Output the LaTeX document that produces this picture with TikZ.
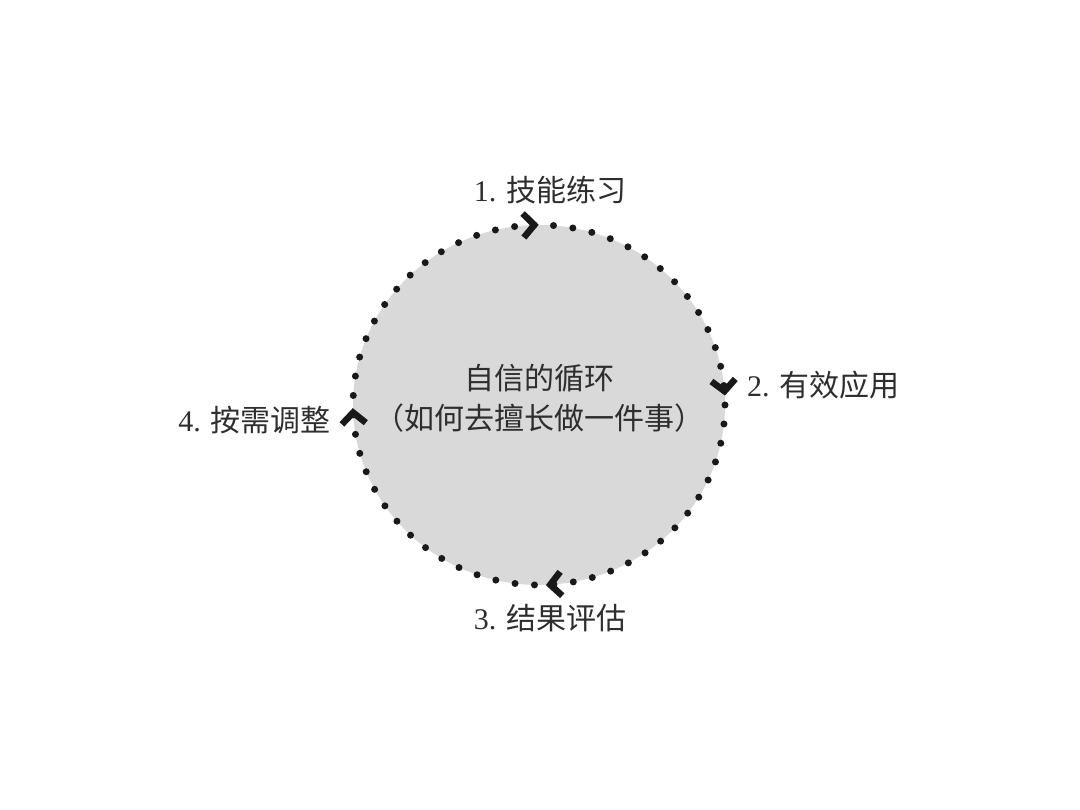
\documentclass[tikz,border=0pt]{standalone}
\usepackage{fontspec}
\usetikzlibrary{calc}
\setmainfont{Liberation Serif}
\newfontfamily\cjk{Noto Sans CJK SC}
\definecolor{fillgray}{HTML}{D9D9D9}
\definecolor{txt}{HTML}{2E2E2E}
\begin{document}
\begin{tikzpicture}[x=1pt,y=1pt,
  lbl/.style={inner sep=0pt, text=txt, font=\fontsize{30}{41}\selectfont},
  chev/.style={line width=6.5pt, black!90, miter limit=10}]
\useasboundingbox (0,0) rectangle (1080,810);
\coordinate (cyc) at (539,405);
\fill[fillgray] (cyc) ellipse[x radius=186, y radius=180];
\draw[line width=7pt, line cap=round, dash pattern=on 0pt off 19.5pt, black!90] (cyc) ellipse[x radius=186, y radius=180];
\foreach \a/\n in {93/c1, 6/c2, -85/c3, 184/c4}{
  \begin{scope}[shift={($(cyc)+({186*cos(\a)},{180*sin(\a)})$)}, rotate=\a-90]
    \draw[chev] (-6,12) -- (5,0) -- (-6,-12);
    \coordinate (\n) at (0,0);
  \end{scope}
}
\node[lbl] (t1) at (550,620) {1. {\cjk 技能练习}};
\node[lbl, anchor=west] (t2) at (747,425) {2. {\cjk 有效应用}};
\node[lbl] (t3) at (550,192) {3. {\cjk 结果评估}};
\node[lbl, anchor=east] (t4) at (331,390) {4. {\cjk 按需调整}};
\node[lbl, align=center, font=\fontsize{30}{40}\selectfont\cjk] (mid) at (539,412) {自信的循环\\（如何去擅长做一件事）};
\end{tikzpicture}
\end{document}
